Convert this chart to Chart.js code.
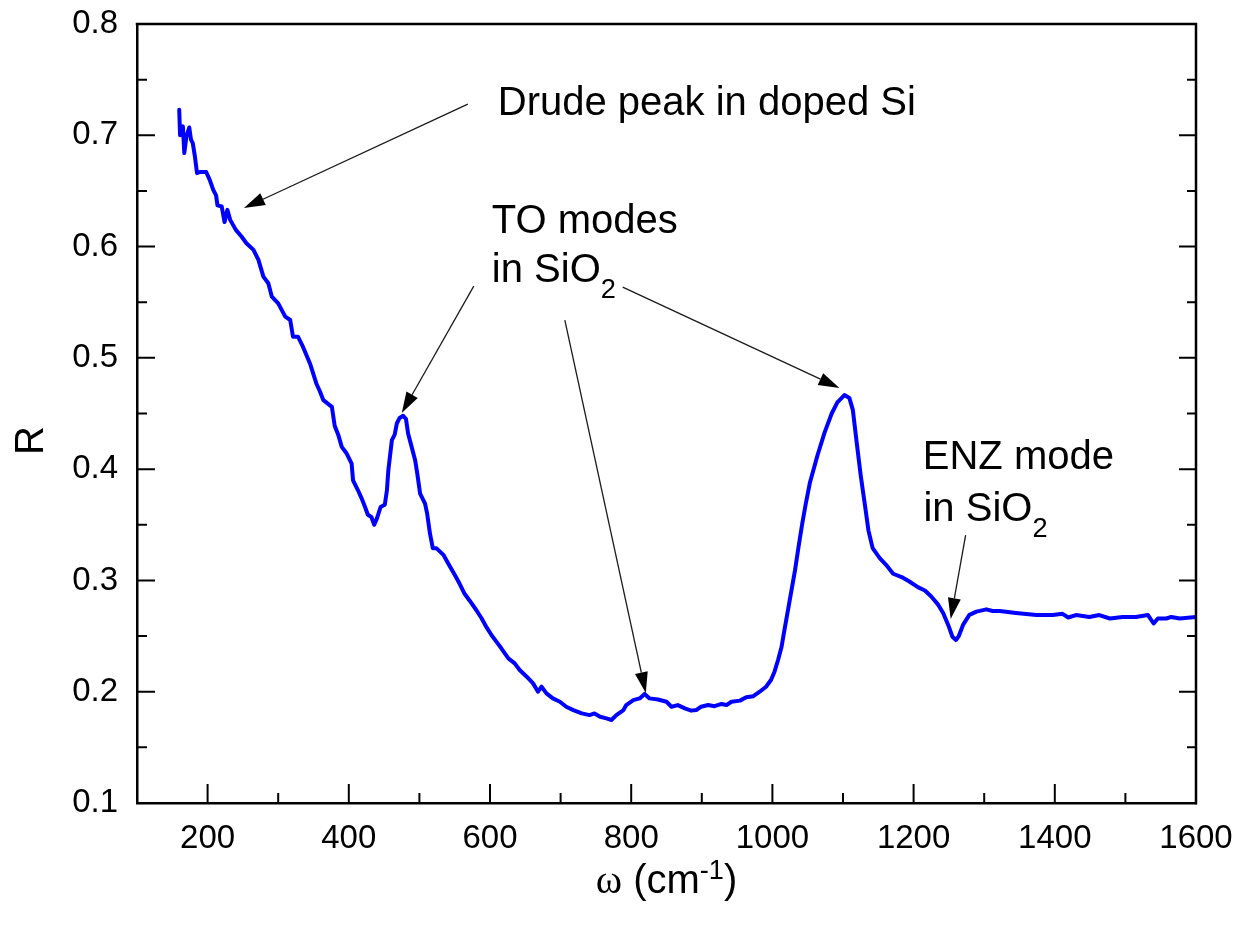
<!DOCTYPE html>
<html><head><meta charset="utf-8">
<script src="https://cdn.jsdelivr.net/npm/chart.js@4.4.0/dist/chart.umd.min.js"></script>
<style>html,body{margin:0;padding:0;background:#fff;}canvas{display:block;}</style>
</head><body>
<canvas id="c" width="1244" height="926"></canvas>
<script>
// ---- data ----
const wavenumber = [
 159.8,161,165,167,170,174,176.5,179,182,185,189,198,203,208,212,214,220,224,228,232,
 240,248,255,265,272,279,286,291,300,310,317,321,328,335,345,354,359,364,376,380,
 385,390,397,404,406,413,418,423,427,432,436,440,445,451,454,456,461,465,468,472,
 477,481,484,489,494,497,501,508,511,515,519,524,534,541,550,557,564,571,581,588,
 595,602,609,616,626,635,642,652,661,668,673,680,689,699,708,718,730,741,748,756,
 765,772,779,789,793,803,812,819,826,838,850,857,866,876,885,892,899,909,918,928,
 935,942,954,963,973,982,991,998,1003,1008,1013,1017,1022,1027,1032,1037,1042,1047,1053,1064,
 1074,1084,1092,1102,1109,1114,1119,1125,1131,1136,1142,1152,1161,1171,1183,1194,1206,1216,1225,1235,
 1242,1249,1255,1260,1264,1270,1279,1289,1303,1312,1322,1345,1374,1397,1411,1419,1430,1449,1463,1478,
 1496,1515,1532,1540,1546,1558,1565,1577,1600
];
const reflectance = [
 0.723,0.700,0.708,0.684,0.699,0.707,0.696,0.693,0.681,0.666,0.667,0.667,0.660,0.651,0.646,0.637,0.636,0.622,0.633,0.624,
 0.615,0.609,0.603,0.597,0.588,0.573,0.567,0.555,0.549,0.537,0.534,0.519,0.519,0.510,0.495,0.477,0.470,0.462,0.456,0.439,
 0.431,0.420,0.414,0.405,0.390,0.381,0.374,0.366,0.359,0.357,0.350,0.356,0.366,0.368,0.381,0.399,0.426,0.431,0.441,0.446,
 0.448,0.445,0.432,0.420,0.408,0.396,0.378,0.369,0.360,0.342,0.329,0.329,0.323,0.315,0.305,0.297,0.288,0.282,0.273,0.266,
 0.258,0.251,0.245,0.239,0.230,0.2255,0.2195,0.2135,0.2075,0.200,0.2045,0.1985,0.194,0.191,0.1865,0.1835,0.1805,0.179,0.1805,0.1775,
 0.176,0.1746,0.179,0.1835,0.188,0.1925,0.194,0.198,0.194,0.193,0.191,0.1865,0.188,0.185,0.183,0.1835,0.1865,0.188,0.187,0.189,
 0.188,0.191,0.192,0.195,0.196,0.200,0.2045,0.2105,0.218,0.2285,0.2404,0.2554,0.273,0.291,0.309,0.330,0.350,0.368,0.3875,0.4127,
 0.433,0.450,0.460,0.4666,0.464,0.453,0.426,0.3947,0.368,0.345,0.329,0.320,0.314,0.306,0.303,0.299,0.294,0.291,0.2855,0.278,
 0.2705,0.260,0.2494,0.2465,0.250,0.260,0.269,0.272,0.274,0.2725,0.2726,0.2708,0.2689,0.2689,0.270,0.2667,0.2689,0.2672,0.2689,0.2658,
 0.2672,0.2672,0.2689,0.2613,0.2658,0.2658,0.2672,0.2658,0.2672
];
const xTickValues = [200,400,600,800,1000,1200,1400,1600];
const xMinorValues = [300,500,700,900,1100,1300,1500];
const yTickValues = [0.1,0.2,0.3,0.4,0.5,0.6,0.7,0.8];
const yMinorValues = [0.15,0.25,0.35,0.45,0.55,0.65,0.75];

// annotation positions in data coordinates
const arrows = [
  {from:[568.6,0.728], to:[251.5,0.6346]},
  {from:[577,0.5645], to:[475,0.4504]},
  {from:[706,0.534], to:[820.7,0.1988]},
  {from:[788,0.5636], to:[1095,0.4729]},
  {from:[1273.7,0.3408], to:[1252.5,0.2653]}
];
const labels = [
  {at:[611,0.718], parts:[{t:'Drude peak in doped Si'}]},
  {at:[602.6,0.612], parts:[{t:'TO modes'}]},
  {at:[602.6,0.568], parts:[{t:'in SiO'},{t:'2',sub:true}]},
  {at:[1213,0.400], parts:[{t:'ENZ mode'}]},
  {at:[1214,0.3534], parts:[{t:'in SiO'},{t:'2',sub:true}]}
];

const FONT = '"Liberation Sans", Arial, sans-serif';

function drawArrow(ctx, x1, y1, x2, y2){
  const ang = Math.atan2(y2-y1, x2-x1);
  const L = 21, W = 6.5;
  const bx = x2 - L*Math.cos(ang), by = y2 - L*Math.sin(ang);
  ctx.save();
  ctx.strokeStyle = '#1a1a1a'; ctx.lineWidth = 1.3;
  ctx.beginPath(); ctx.moveTo(x1,y1); ctx.lineTo(bx,by); ctx.stroke();
  ctx.fillStyle = '#000';
  ctx.beginPath();
  ctx.moveTo(x2,y2);
  ctx.lineTo(bx + W*Math.sin(ang), by - W*Math.cos(ang));
  ctx.lineTo(bx - W*Math.sin(ang), by + W*Math.cos(ang));
  ctx.closePath(); ctx.fill();
  ctx.restore();
}

const SMALL = 0.68;
function drawRich(ctx, parts, x, y, size){
  let cx = x;
  for (const p of parts){
    const s = (p.sub || p.sup) ? size*SMALL : size;
    ctx.font = s + 'px ' + (p.family || FONT);
    const dy = p.sub ? size*0.4 : (p.sup ? -size*0.36 : 0);
    ctx.fillText(p.t, cx, y + dy);
    cx += ctx.measureText(p.t).width;
  }
  return cx - x;
}
function measureRich(ctx, parts, size){
  let w = 0;
  for (const p of parts){
    const s = (p.sub||p.sup) ? size*SMALL : size;
    ctx.font = s + 'px ' + (p.family || FONT);
    w += ctx.measureText(p.t).width;
  }
  return w;
}

const framePlugin = {
  id: 'frame',
  afterDraw(chart){
    const ctx = chart.ctx, a = chart.chartArea;
    const xs = chart.scales.x, ys = chart.scales.y;
    ctx.save();
    ctx.strokeStyle = '#000'; ctx.lineWidth = 2.5; ctx.lineCap = 'butt';
    ctx.beginPath();
    ctx.moveTo(a.left - 1.25, a.top); ctx.lineTo(a.right, a.top); ctx.lineTo(a.right, a.bottom + 1.25);
    ctx.stroke();
    ctx.lineWidth = 2;
    ctx.beginPath();
    for (const v of xTickValues){ const p = xs.getPixelForValue(v); ctx.moveTo(p, a.bottom); ctx.lineTo(p, a.bottom - 19); }
    for (const v of xMinorValues){ const p = xs.getPixelForValue(v); ctx.moveTo(p, a.bottom); ctx.lineTo(p, a.bottom - 10); }
    for (const v of yTickValues){ const p = ys.getPixelForValue(v);
      ctx.moveTo(a.left, p); ctx.lineTo(a.left + 18, p);
      ctx.moveTo(a.right, p); ctx.lineTo(a.right - 17, p); }
    for (const v of yMinorValues){ const p = ys.getPixelForValue(v);
      ctx.moveTo(a.left, p); ctx.lineTo(a.left + 10, p);
      ctx.moveTo(a.right, p); ctx.lineTo(a.right - 9, p); }
    ctx.stroke();

    for (const ar of arrows){
      drawArrow(ctx, xs.getPixelForValue(ar.from[0]), ys.getPixelForValue(ar.from[1]),
                     xs.getPixelForValue(ar.to[0]), ys.getPixelForValue(ar.to[1]));
    }
    ctx.fillStyle = '#000'; ctx.textBaseline = 'alphabetic'; ctx.textAlign = 'left';
    for (const lb of labels){
      drawRich(ctx, lb.parts, xs.getPixelForValue(lb.at[0]), ys.getPixelForValue(lb.at[1]), 40);
    }
    const tparts = [{t:'\u03c9', family:'"Liberation Serif", "Times New Roman", serif'},{t:' (cm'},{t:'-1',sup:true},{t:')'}];
    const tw = measureRich(ctx, tparts, 40);
    drawRich(ctx, tparts, (a.left + a.right)/2 - tw/2, 893, 40);
    ctx.save();
    ctx.translate(43, (a.top + a.bottom)/2 + 27);
    ctx.rotate(-Math.PI/2);
    ctx.font = '40px ' + FONT; ctx.textAlign = 'center'; ctx.textBaseline = 'alphabetic';
    ctx.fillText('R', 0, 0);
    ctx.restore();
    ctx.restore();
  }
};

new Chart(document.getElementById('c').getContext('2d'), {
  type: 'scatter',
  data: { datasets: [{
    data: wavenumber.map((w, i) => ({x: w, y: reflectance[i]})),
    showLine: true, borderColor: '#0000ff', backgroundColor: '#0000ff',
    borderWidth: 4, pointRadius: 0, tension: 0, fill: false,
    borderJoinStyle: 'round', borderCapStyle: 'round'
  }]},
  options: {
    responsive: false, animation: false, devicePixelRatio: 1,
    layout: { padding: { left: 0, top: 24, right: 48, bottom: 0 } },
    plugins: { legend: { display: false }, tooltip: { enabled: false } },
    scales: {
      x: {
        type: 'linear', min: 100, max: 1600,
        afterBuildTicks: s => { s.ticks = xTickValues.map(v => ({value: v})); },
        afterFit: s => { s.height = 123; s.paddingLeft = 0; s.paddingRight = 0; },
        grid: { display: false, drawTicks: false },
        border: { display: true, color: '#000', width: 2.5 },
        ticks: { padding: 16, color: '#000', maxRotation: 0, autoSkip: false,
          font: { family: FONT, size: 33 }, callback: v => String(v) }
      },
      y: {
        type: 'linear', min: 0.1, max: 0.8,
        afterBuildTicks: s => { s.ticks = yTickValues.map(v => ({value: v})); },
        afterFit: s => { s.width = 137; s.paddingTop = 0; s.paddingBottom = 0; },
        grid: { display: false, drawTicks: false },
        border: { display: true, color: '#000', width: 2.5 },
        ticks: { padding: 19, color: '#000', autoSkip: false,
          font: { family: FONT, size: 33 }, callback: v => Number(v).toFixed(1) }
      }
    }
  },
  plugins: [framePlugin]
});
</script>
</body></html>
